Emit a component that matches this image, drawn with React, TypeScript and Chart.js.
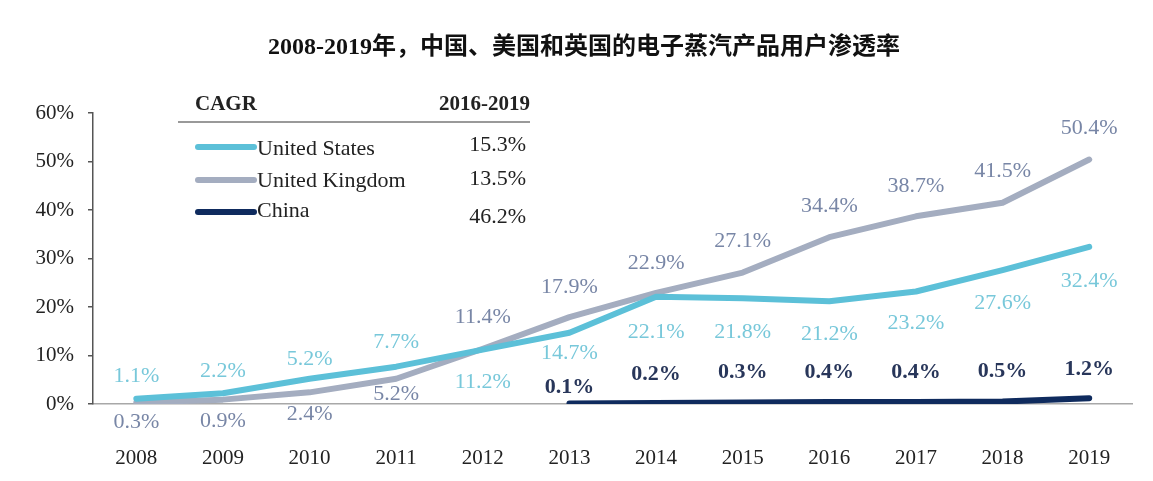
import React, { useEffect, useRef } from "react";
import { Chart, registerables } from "chart.js";

Chart.register(...registerables);

// ---- data ----
const YEARS = ["2008", "2009", "2010", "2011", "2012", "2013", "2014", "2015", "2016", "2017", "2018", "2019"];
const US = [1.1, 2.2, 5.2, 7.7, 11.2, 14.7, 22.1, 21.8, 21.2, 23.2, 27.6, 32.4];
const UK = [0.3, 0.9, 2.4, 5.2, 11.4, 17.9, 22.9, 27.1, 34.4, 38.7, 41.5, 50.4];
const CHINA = [null, null, null, null, null, 0.1, 0.2, 0.3, 0.4, 0.4, 0.5, 1.2];
const Y_TICKS = [0, 10, 20, 30, 40, 50, 60];
const SERIES_NAMES = ["United States", "United Kingdom", "China"];
const CAGR_VALUES = ["15.3%", "13.5%", "46.2%"];
const TITLE = "2008-2019年，中国、美国和英国的电子蒸汽产品用户渗透率";

// ---- styles ----
const C_US = "#5cc0d8";
const C_UK = "#a4adc0";
const C_CN = "#0f2b5e";
const L_US = "#78c8da";
const L_UK = "#7886a6";
const L_CN = "#28365a";
const SERIF = '"Liberation Serif", "Times New Roman", serif';

// label vertical offsets (px) relative to each point
const US_DY = [-22, -22, -20, -24, 33, 21, 35, 34, 33, 32, 33, 34];
const UK_DY = [20, 22, 22, 15, -31, -30, -30, -31, -31, -30, -32, -31];
const CN_DY = [0, 0, 0, 0, 0, -16, -29, -30, -30, -30, -30, -29];

const titlePlugin = {
  id: "customTitle",
  afterDraw(chart: any) {
    const ctx = chart.ctx;
    ctx.save();
    ctx.font = `bold 24px ${SERIF}, "Noto Sans CJK SC"`;
    ctx.fillStyle = "#111";
    ctx.textAlign = "center";
    ctx.textBaseline = "middle";
    ctx.fillText(TITLE, 584, 48);
    ctx.restore();
  },
};

const legendPlugin = {
  id: "cagrTable",
  afterDraw(chart: any) {
    const ctx = chart.ctx;
    ctx.save();
    ctx.fillStyle = "#222";
    ctx.textBaseline = "middle";
    ctx.font = `bold 21px ${SERIF}`;
    ctx.textAlign = "left";
    ctx.fillText("CAGR", 195, 105);
    ctx.textAlign = "right";
    ctx.fillText("2016-2019", 530, 105);
    ctx.strokeStyle = "#777";
    ctx.lineWidth = 1.5;
    ctx.beginPath();
    ctx.moveTo(178, 122);
    ctx.lineTo(530, 122);
    ctx.stroke();
    const colors = [C_US, C_UK, C_CN];
    const lineY = [147, 180, 212];
    const textY = [149, 181, 211];
    const valY = [145, 179, 217];
    ctx.font = `22px ${SERIF}`;
    for (let i = 0; i < 3; i++) {
      ctx.strokeStyle = colors[i];
      ctx.lineWidth = 6;
      ctx.lineCap = "round";
      ctx.beginPath();
      ctx.moveTo(198, lineY[i]);
      ctx.lineTo(254, lineY[i]);
      ctx.stroke();
      ctx.textAlign = "left";
      ctx.fillText(SERIES_NAMES[i], 257, textY[i]);
      ctx.textAlign = "right";
      ctx.fillText(CAGR_VALUES[i], 526, valY[i]);
    }
    ctx.restore();
  },
};

const dataLabelPlugin = {
  id: "pointLabels",
  afterDatasetsDraw(chart: any) {
    const ctx = chart.ctx;
    ctx.save();
    ctx.textAlign = "center";
    ctx.textBaseline = "middle";
    chart.data.datasets.forEach((ds: any, di: number) => {
      const meta = chart.getDatasetMeta(di);
      ctx.font = `${ds.labelBold ? "bold " : ""}22px ${SERIF}`;
      meta.data.forEach((pt: any, i: number) => {
        const v = ds.data[i];
        if (v === null || v === undefined) return;
        ctx.fillStyle = ds.labelColor;
        ctx.fillText(v.toFixed(1) + "%", pt.x, pt.y + ds.labelDy[i]);
      });
    });
    ctx.restore();
  },
};

export default function App() {
  const ref = useRef<HTMLCanvasElement | null>(null);
  useEffect(() => {
    document.body.style.margin = "0";
    const canvas = ref.current;
    if (!canvas) return;
    const common = {
      borderWidth: 6,
      pointRadius: 0,
      borderCapStyle: "round",
      borderJoinStyle: "round",
      tension: 0,
    };
    const chart = new Chart(canvas, {
      type: "line",
      data: {
        labels: YEARS,
        datasets: [
          { ...common, label: "China", data: CHINA, borderColor: C_CN, labelColor: L_CN, labelDy: CN_DY, labelBold: true } as any,
          { ...common, label: "United States", data: US, borderColor: C_US, labelColor: L_US, labelDy: US_DY } as any,
          { ...common, label: "United Kingdom", data: UK, borderColor: C_UK, labelColor: L_UK, labelDy: UK_DY } as any,
        ],
      },
      options: {
        responsive: false,
        animation: false,
        layout: { padding: { top: 113, right: 19, bottom: 0, left: 0 } },
        plugins: {
          legend: { display: false },
          title: { display: false },
          tooltip: { enabled: false },
        },
        scales: {
          x: {
            offset: true,
            grid: { display: false, drawTicks: false },
            border: { display: true, color: "#a8a8a8", width: 1.5 },
            ticks: {
              font: { family: SERIF, size: 21 },
              color: "#222",
              padding: 42,
              maxRotation: 0,
            },
            afterFit: (s: any) => {
              s.height = 77;
            },
          },
          y: {
            min: 0,
            max: 60,
            afterBuildTicks: (s: any) => {
              s.ticks = Y_TICKS.map((v) => ({ value: v }));
            },
            grid: {
              display: true,
              drawOnChartArea: false,
              drawTicks: true,
              tickLength: 5,
              color: "#555",
              lineWidth: 1.5,
            },
            border: { display: true, color: "#555", width: 1.5 },
            ticks: {
              font: { family: SERIF, size: 21 },
              color: "#222",
              padding: 14,
              callback: (v: any) => v + "%",
            },
            afterFit: (s: any) => {
              s.width = 93;
            },
          },
        },
      },
      plugins: [titlePlugin, legendPlugin, dataLabelPlugin],
    });
    return () => chart.destroy();
  }, []);
  return (
    <div style={{ width: 1153, height: 481, background: "#fff" }}>
      <canvas ref={ref} width={1153} height={481} />
    </div>
  );
}
